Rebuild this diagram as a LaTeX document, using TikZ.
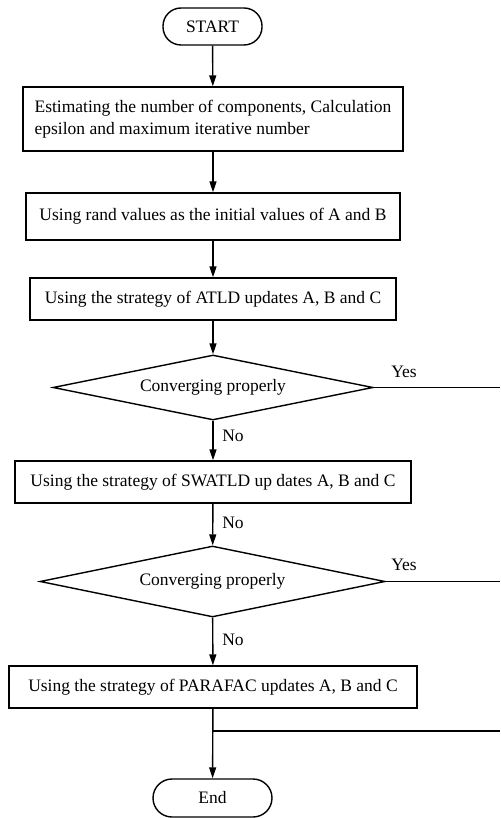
\documentclass[tikz,border=0pt]{standalone}
\usepackage{fontspec}
\setmainfont{Liberation Serif}
\usetikzlibrary{arrows.meta,shapes.geometric}
\begin{document}
\begin{tikzpicture}[x=1pt,y=-1pt,
  every node/.style={font=\fontsize{17.5}{22}\selectfont},
  line/.style={line width=1.4pt},
  arr/.style={line, -{Triangle[length=11pt,width=7pt]}},
  box/.style={draw, line width=1.4pt, rectangle, inner sep=0pt},
  term/.style={draw, line width=1.4pt, rectangle, rounded corners=18pt, inner sep=0pt},
  dec/.style={draw, line width=1.4pt, diamond, shape aspect=5, inner sep=0pt},
  lbl/.style={inner sep=0pt}]
\useasboundingbox (0,0) rectangle (500,818);
\node[term, minimum width=99pt, minimum height=37pt] (start) at (212.5,26.5) {START};
\node[box, minimum width=380pt, minimum height=64pt, align=left] (b1) at (213,119)
  {Estimating the number of components, Calculation\\epsilon and maximum iterative number};
\node[box, minimum width=374pt, minimum height=47pt] (b2) at (213,216.5)
  {Using rand values as the initial values of A and B};
\node[box, minimum width=366pt, minimum height=42pt] (b3) at (213,299)
  {Using the strategy of ATLD updates A, B and C};
\node[dec, minimum width=320pt, minimum height=65pt] (d1) at (213,387.5)
  {Converging properly};
\node[box, minimum width=396pt, minimum height=42pt] (b4) at (213,482)
  {Using the strategy of SWATLD up dates A, B and C};
\node[dec, minimum width=345pt, minimum height=71pt] (d2) at (212.5,581.5)
  {Converging properly};
\node[box, minimum width=408pt, minimum height=42pt] (b5) at (213,687)
  {Using the strategy of PARAFAC updates A, B and C};
\node[term, minimum width=119pt, minimum height=38pt, rounded corners=19pt] (end) at (212.5,798) {End};

\coordinate (r1) at (500,387.5);
\coordinate (r2) at (500,581.5);
\coordinate (j) at (213,731);
\coordinate (r3) at (500,731);

\draw[arr] (start) -- (b1);
\draw[arr] (b1) -- (b2);
\draw[arr] (b2) -- (b3);
\draw[arr] (b3) -- (d1);
\draw[line] (d1.east) -- (r1);
\draw[arr] (d1) -- (b4);
\draw[arr] (b4) -- (d2);
\draw[line] (d2.east) -- (r2);
\draw[arr] (d2) -- (b5);
\draw[arr] (b5) -- (end);
\draw[line] (j) -- (r3);

\node[lbl] (yes1) at (404,372) {Yes};
\node[lbl] (no1) at (233,436) {No};
\node[lbl] (no2) at (233,523) {No};
\node[lbl] (yes2) at (404,565) {Yes};
\node[lbl] (no3) at (233,640) {No};
\end{tikzpicture}
\end{document}
